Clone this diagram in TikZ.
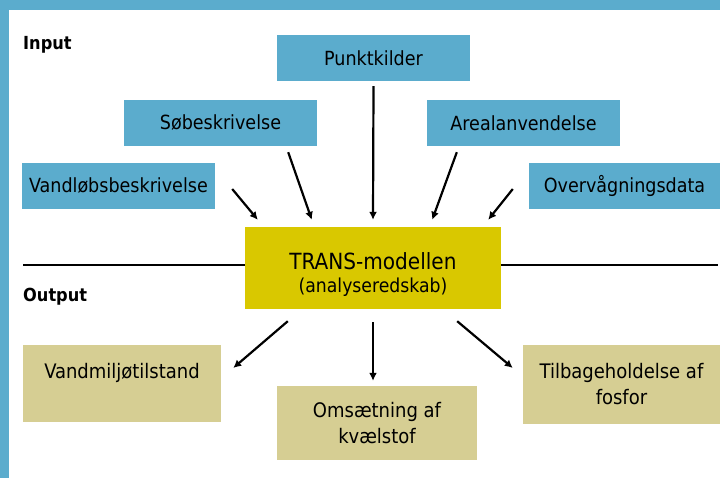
\documentclass[tikz,border=0pt]{standalone}
\usepackage{fontspec}
\setmainfont{DejaVu Sans Condensed}
\usepackage{xcolor}
\usepackage{tikz}
\usetikzlibrary{arrows.meta,positioning,calc}
\definecolor{inblue}{RGB}{91,172,205}
\definecolor{modyellow}{RGB}{217,200,0}
\definecolor{outbeige}{RGB}{214,206,147}
\tikzset{
  box/.style={inner sep=0pt, align=center, font=\fontsize{19.5}{26}\selectfont},
  inbox/.style={box, fill=inblue, minimum width=193pt, minimum height=46pt},
  outbox/.style={box, fill=outbeige, font=\fontsize{20}{26}\selectfont},
  arr/.style={-{Latex[length=8pt,width=8pt]}, line width=2.2pt},
}
\begin{document}
\begin{tikzpicture}[x=1pt, y=-1pt, hd/.style={font=\fontsize{18}{20}\selectfont\bfseries, anchor=west, inner sep=0pt}]
\useasboundingbox (0,0) rectangle (720,478);
\fill[inblue] (0,0) rectangle (720,10.5);
\fill[inblue] (0,0) rectangle (9,478);
\node[hd] (inp) at (23,45) {Input};
\node[hd] (outp) at (23,297) {Output};
\node[inbox] (punkt) at (373.5,58) {Punktkilder};
\node[inbox] (soe) at (220.5,123) {Søbeskrivelse};
\node[inbox] (vandl) at (118.5,186) {Vandløbsbeskrivelse};
\node[inbox] (areal) at (523.5,123) {Arealanvendelse};
\node[inbox, minimum width=191pt] (overv) at (624.5,186) {Overvågningsdata};
\node[box, fill=modyellow, minimum width=256pt, minimum height=82pt, font=\fontsize{22.3}{26}\selectfont] (trans) at (373,268) {\rule{0pt}{30pt}TRANS-modellen\\[-3pt]{\fontsize{19.2}{20}\selectfont(analyseredskab)}};
\node[outbox, minimum width=198pt, minimum height=77pt] (vmil) at (122,383.5) {Vandmiljøtilstand\\ ~};
\node[outbox, minimum width=200pt, minimum height=74pt] (oms) at (377,423) {Omsætning af\\kvælstof};
\node[outbox, minimum width=197pt, minimum height=79pt] (tilb) at (621.5,384.5) {Tilbageholdelse af\\fosfor};
\coordinate (lineL) at (23,265);
\coordinate (lineR) at (718,265);
\draw[line width=2.2pt] (lineL) -- (trans.west |- lineL);
\draw[line width=2.2pt] (trans.east |- lineR) -- (lineR);
% input
\draw[arr] ([shift={(17,3)}]vandl.east) -- ([shift={(13,-7)}]trans.north west);
\draw[arr] ([shift={(-29,6)}]soe.south east) -- ([shift={(67,-7)}]trans.north west);
\draw[arr] ([shift={(0,5)}]punkt.south) -- ([shift={(0,-7)}]trans.north);
\draw[arr] ([shift={(30,6)}]areal.south west) -- ([shift={(-69,-7)}]trans.north east);
\draw[arr] ([shift={(-16,3)}]overv.west) -- ([shift={(-13,-7)}]trans.north east);
% output
\draw[arr] ([shift={(43,12)}]trans.south west) -- ([shift={(12,-15.5)}]vmil.east);
\draw[arr] ([shift={(0,13)}]trans.south) -- ([shift={(0,-5)}]trans.south |- oms.north);
\draw[arr] ([shift={(-44,12)}]trans.south east) -- ([shift={(-10,-16.5)}]tilb.west);
\end{tikzpicture}
\end{document}
